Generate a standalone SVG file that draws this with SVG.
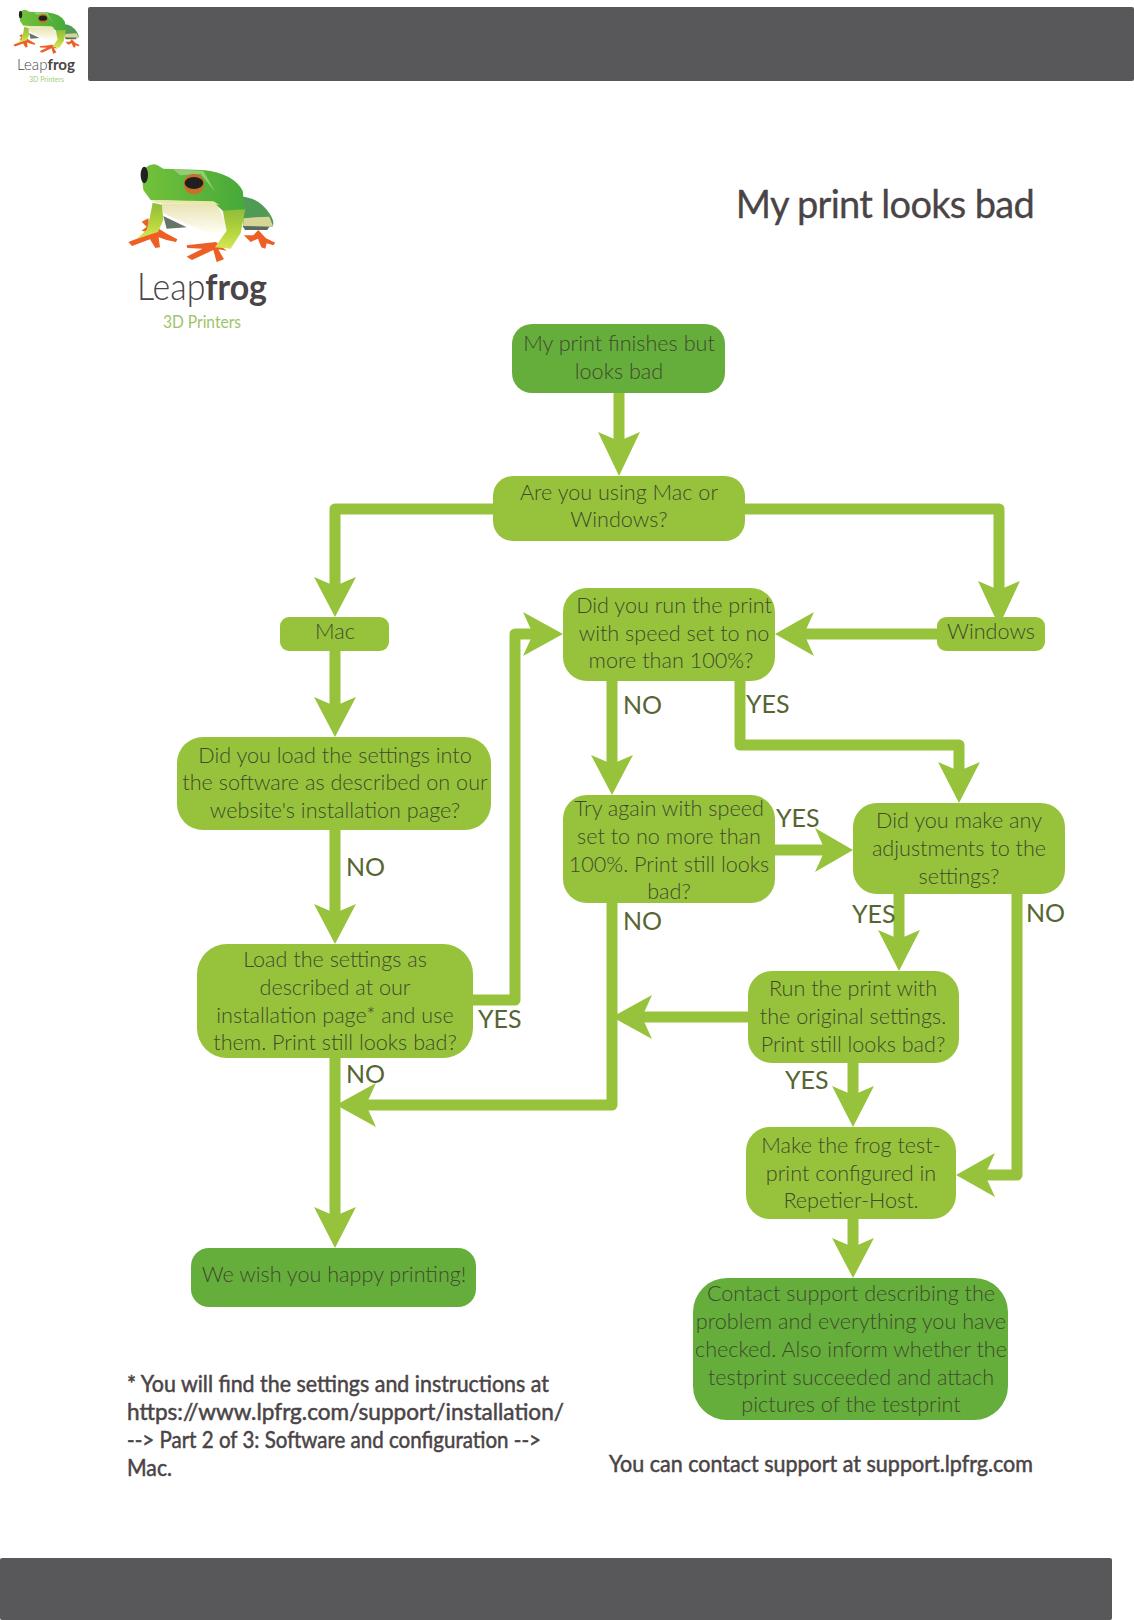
<svg xmlns="http://www.w3.org/2000/svg" xmlns:xlink="http://www.w3.org/1999/xlink" width="1134" height="1620" viewBox="0 0 1134 1620">
<style>
text{font-family:"Lato","Open Sans","Liberation Sans",sans-serif;}
.n{fill:#97c33c}.d{fill:#66ae3c}.bar{fill:#58585a}
.t{font-size:21.6px;fill:#3f4b2c;text-anchor:middle;font-weight:300}
.l{font-size:25px;fill:#566531;font-weight:400}
.c{fill:none;stroke:#97c33c;stroke-width:11;stroke-linejoin:round}
.a{fill:#97c33c}
.f{font-size:22.5px;fill:#4a4446;font-weight:400;stroke:#4a4446;stroke-width:.5}
.o{fill:#ee5f26}
</style>
<defs>
<linearGradient id="belly" x1="0" y1="0" x2="0" y2="1"><stop offset="0" stop-color="#e9e2b4"/><stop offset="1" stop-color="#fffef4"/></linearGradient>
<linearGradient id="leg" x1="0" y1="0" x2="0" y2="1"><stop offset="0" stop-color="#8fbc3a"/><stop offset=".6" stop-color="#b6d63c"/><stop offset="1" stop-color="#d7e65a"/></linearGradient>
<linearGradient id="skin" x1="0" y1="0" x2="1" y2="0"><stop offset="0" stop-color="#74c23a"/><stop offset="1" stop-color="#46a93a"/></linearGradient>
<g id="frog">
<path class="o" d="M425 665L445 655 450 698 425 692 440 680z"/>
<path d="M725 590Q775 592 808 640 825 665 818 680L730 682z" fill="#4f9a55"/>
<path d="M730 655Q780 650 808 650L820 680 730 680z" fill="#d6d596"/>
<path d="M728 678L808 680 802 690 735 690z" fill="#5a6a62"/>
<path class="o" d="M775 690L798 715 826 728 820 736 800 730 796 746 784 742 774 716 752 726 732 706 760 706z"/>
<path class="o" d="M385 726L448 702 470 682 498 700 532 718 528 726 500 720 476 712 480 742 466 744 450 718 396 738z"/>
<path class="o" d="M560 736L648 726 680 752 655 748 672 778 650 786 640 750 576 780 560 770 608 746 562 744z"/>
<path d="M485 610L650 612 695 700 625 700 560 672 490 640z" fill="url(#belly)"/>
<path d="M490 648L560 682 500 686z" fill="#66756a"/>
<path d="M458 608L486 614 490 660 474 696 410 716 440 690 450 650z" fill="url(#leg)"/>
<path d="M668 630L736 626 722 700 692 746 645 742 680 692z" fill="url(#leg)"/>
<path d="M425 525Q438 488 470 494L490 506 610 510Q700 520 728 572L735 628 668 632 640 606 452 600 430 570z" fill="url(#skin)"/>
<path d="M520 508L610 512 645 575 602 522 540 526z" fill="#93cc73"/>
<path d="M452 600L640 604 658 614 470 608z" fill="#e6e9a8"/>
<circle cx="582" cy="552" r="31" fill="#c8702a"/>
<ellipse cx="582" cy="549" rx="28" ry="18" fill="#1f1f1f"/>
<ellipse cx="433" cy="525" rx="11" ry="25" fill="#222"/>
</g>
</defs>

<g id="header-bar"><rect class="bar" x="88" y="7" width="1046" height="74" rx="2"/></g>
<g id="footer-bar"><rect class="bar" x="0" y="1558" width="1112" height="62" rx="2"/></g>

<g id="small-logo">
<use xlink:href="#frog" href="#frog" transform="translate(-44.4,-64.2) scale(.15)"/>
<text x="17" y="70" font-size="16" fill="#4a4446" textLength="58" lengthAdjust="spacingAndGlyphs" font-weight="300">Leap<tspan font-weight="700">frog</tspan></text>
<text x="29" y="82" font-size="7" fill="#a5cc78" textLength="35" lengthAdjust="spacingAndGlyphs">3D Printers</text>
</g>
<g id="large-logo">
<use xlink:href="#frog" href="#frog" transform="scale(.3333)"/>
<text x="137" y="300" font-size="37" fill="#4a4446" textLength="130" lengthAdjust="spacingAndGlyphs" font-weight="300">Leap<tspan font-weight="700">frog</tspan></text>
<text x="163" y="328" font-size="18" fill="#9cc46a" textLength="78" lengthAdjust="spacingAndGlyphs">3D Printers</text>
</g>
<g id="title"><text x="1034" y="218" font-size="38" fill="#4a4446" text-anchor="end" letter-spacing="-.7" stroke="#4a4446" stroke-width=".3">My print looks bad</text></g>

<g id="connectors">
<path class="c" d="M619 393V450"/><polygon class="a" points="598,432 619,441 640,432 619,476"/>
<path class="c" d="M493 509H335V590"/><polygon class="a" points="314,577 335,586 356,577 335,617"/>
<path class="c" d="M745 509H999V590"/><polygon class="a" points="978,581 999,590 1020,581 999,626"/>
<path class="c" d="M937 634H800"/><polygon class="a" points="814,612 804,634 814,656 775,634"/>
<path class="c" d="M335 651V710"/><polygon class="a" points="314,697 335,706 356,697 335,737"/>
<path class="c" d="M335 830V920"/><polygon class="a" points="314,904 335,913 356,904 335,944"/>
<path class="c" d="M473 1000H515V634H540"/><polygon class="a" points="523,612 533,634 523,656 563,634"/>
<path class="c" d="M612 681V770"/><polygon class="a" points="591,755 612,764 633,755 612,795"/>
<path class="c" d="M740 681V745H959V775"/><polygon class="a" points="938,762 959,771 980,762 959,803"/>
<path class="c" d="M775 850H830"/><polygon class="a" points="815,828 825,850 815,872 853,850"/>
<path class="c" d="M899 894V945"/><polygon class="a" points="878,930 899,939 920,930 899,971"/>
<path class="c" d="M1017 894V1175H980"/><polygon class="a" points="995,1153 985,1175 995,1197 956,1175"/>
<path class="c" d="M748 1017H640"/><polygon class="a" points="652,995 642,1017 652,1039 612,1017"/>
<path class="c" d="M612 903V1105H360"/><polygon class="a" points="376,1083 366,1105 376,1127 336,1105"/>
<path class="c" d="M335 1058V1220"/><polygon class="a" points="314,1207 335,1216 356,1207 335,1248"/>
<path class="c" d="M853 1063V1100"/><polygon class="a" points="832,1086 853,1095 874,1086 853,1127"/>
<path class="c" d="M853 1219V1250"/><polygon class="a" points="832,1238 853,1247 874,1238 853,1278"/>
</g>

<g id="node-start"><rect class="d" x="512" y="324" width="213" height="69" rx="20"/><text class="t"><tspan x="619" y="351">My print finishes but</tspan><tspan x="619" y="379">looks bad</tspan></text></g>
<g id="node-os"><rect class="n" x="493" y="476" width="252" height="65" rx="20"/><text class="t"><tspan x="619" y="500">Are you using Mac or</tspan><tspan x="619" y="527">Windows?</tspan></text></g>
<g id="node-mac"><rect class="n" x="280" y="617" width="109" height="34" rx="9"/><text class="t" x="335" y="639">Mac</text></g>
<g id="node-windows"><rect class="n" x="937" y="617" width="108" height="34" rx="9"/><text class="t" x="991" y="639">Windows</text></g>
<g id="node-speed"><rect class="n" x="563" y="588" width="212" height="93" rx="24"/><text class="t"><tspan x="674" y="613">Did you run the print</tspan><tspan x="674" y="641">with speed set to no</tspan><tspan x="671" y="668">more than 100%?</tspan></text></g>
<g id="node-load-q"><rect class="n" x="177" y="737" width="314" height="93" rx="26"/><text class="t"><tspan x="335" y="763">Did you load the settings into</tspan><tspan x="335" y="790">the software as described on our</tspan><tspan x="335" y="818">website's installation page?</tspan></text></g>
<g id="node-try"><rect class="n" x="563" y="795" width="212" height="108" rx="24"/><text class="t"><tspan x="669" y="816">Try again with speed</tspan><tspan x="669" y="844">set to no more than</tspan><tspan x="669" y="872">100%. Print still looks</tspan><tspan x="669" y="899">bad?</tspan></text></g>
<g id="node-adjust"><rect class="n" x="853" y="803" width="212" height="91" rx="24"/><text class="t"><tspan x="959" y="828">Did you make any</tspan><tspan x="959" y="856">adjustments to the</tspan><tspan x="959" y="884">settings?</tspan></text></g>
<g id="node-load"><rect class="n" x="197" y="944" width="276" height="114" rx="30"/><text class="t"><tspan x="335" y="967">Load the settings as</tspan><tspan x="335" y="995">described at our</tspan><tspan x="335" y="1023">installation page* and use</tspan><tspan x="335" y="1050">them. Print still looks bad?</tspan></text></g>
<g id="node-original"><rect class="n" x="748" y="971" width="211" height="92" rx="24"/><text class="t"><tspan x="853" y="996">Run the print with</tspan><tspan x="853" y="1024">the original settings.</tspan><tspan x="853" y="1052">Print still looks bad?</tspan></text></g>
<g id="node-testprint"><rect class="n" x="746" y="1127" width="210" height="92" rx="24"/><text class="t"><tspan x="851" y="1153">Make the frog test-</tspan><tspan x="851" y="1181">print configured in</tspan><tspan x="851" y="1208">Repetier-Host.</tspan></text></g>
<g id="node-happy"><rect class="d" x="191" y="1248" width="285" height="59" rx="18"/><text class="t" x="334" y="1282">We wish you happy printing!</text></g>
<g id="node-contact"><rect class="d" x="693" y="1278" width="315" height="142" rx="34"/><text class="t"><tspan x="851" y="1301">Contact support describing the</tspan><tspan x="851" y="1329">problem and everything you have</tspan><tspan x="851" y="1357">checked. Also inform whether the</tspan><tspan x="851" y="1385">testprint succeeded and attach</tspan><tspan x="851" y="1412">pictures of the testprint</tspan></text></g>

<g id="labels">
<text class="l" x="346" y="876">NO</text>
<text class="l" x="623" y="714">NO</text>
<text class="l" x="746" y="713">YES</text>
<text class="l" x="776" y="827">YES</text>
<text class="l" x="623" y="930">NO</text>
<text class="l" x="852" y="923">YES</text>
<text class="l" x="1026" y="922">NO</text>
<text class="l" x="478" y="1028">YES</text>
<text class="l" x="346" y="1083">NO</text>
<text class="l" x="785" y="1089">YES</text>
</g>

<g id="notes">
<text class="f" x="127" y="1392" textLength="422" lengthAdjust="spacingAndGlyphs">* You will find the settings and instructions at</text>
<text class="f" x="127" y="1420" textLength="437" lengthAdjust="spacingAndGlyphs">https://www.lpfrg.com/support/installation/</text>
<text class="f" x="127" y="1448" textLength="414" lengthAdjust="spacingAndGlyphs">--&gt; Part 2 of 3: Software and configuration --&gt;</text>
<text class="f" x="127" y="1476" textLength="45" lengthAdjust="spacingAndGlyphs">Mac.</text>
<text class="f" x="609" y="1472" textLength="424" lengthAdjust="spacingAndGlyphs">You can contact support at support.lpfrg.com</text>
</g>
</svg>
